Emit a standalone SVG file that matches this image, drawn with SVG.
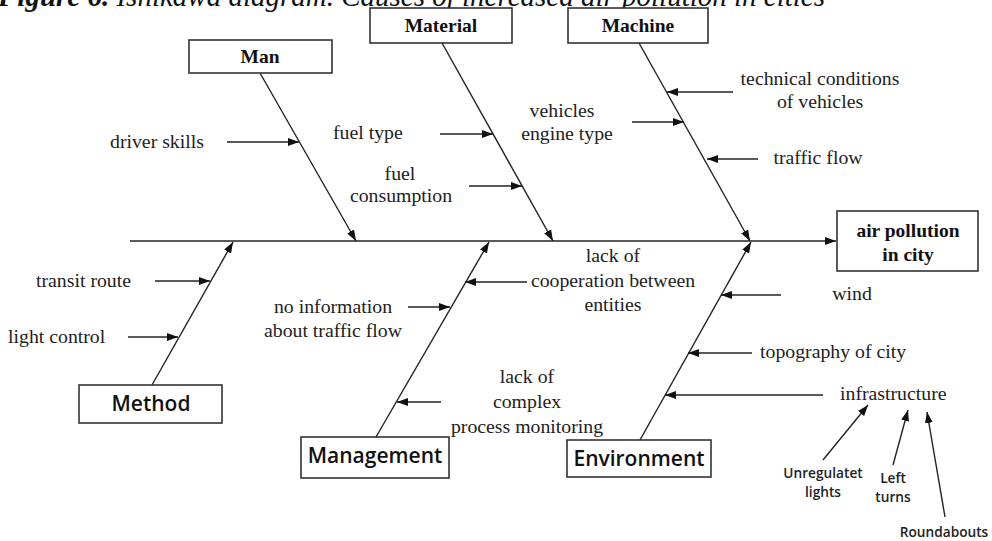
<svg xmlns="http://www.w3.org/2000/svg" width="992" height="541" viewBox="0 0 992 541">
<defs>
<marker id="ah" markerUnits="userSpaceOnUse" markerWidth="11" markerHeight="8" refX="11" refY="4" orient="auto">
<path d="M0,0 L11,4 L0,8 z" fill="#111"/>
</marker>
<style>
.ln{stroke:#222;stroke-width:1.4;fill:none}
.ar{stroke:#222;stroke-width:1.4;fill:none;marker-end:url(#ah)}
.box{fill:#fff;stroke:#333;stroke-width:1.6}
.lb{font-family:"Liberation Serif",serif;font-size:19.8px;fill:#222}
.tb{font-family:"Liberation Serif",serif;font-size:19.5px;font-weight:bold;fill:#111;text-anchor:middle}
.sb{font-family:"Open Sans","Liberation Sans",sans-serif;font-size:21px;font-weight:600;fill:#111;text-anchor:middle}
.sm{font-family:"Open Sans","Liberation Sans",sans-serif;font-size:13.7px;font-weight:600;fill:#222;text-anchor:middle}
.c{text-anchor:middle}
</style>
</defs>
<rect width="992" height="541" fill="#fff"/>
<text x="-2" y="6" font-family="Liberation Serif,serif" font-size="29" font-style="italic" fill="#111"><tspan font-weight="bold">Figure 6.</tspan> Ishikawa diagram. Causes of increased air pollution in cities</text>

<g id="connectors">
<line class="ar" x1="130" y1="241" x2="836" y2="241"/>
<line class="ar" x1="260" y1="73" x2="356" y2="241"/>
<line class="ar" x1="442" y1="43" x2="553" y2="241"/>
<line class="ar" x1="639" y1="43" x2="750" y2="241"/>
<line class="ar" x1="152" y1="385" x2="233" y2="242"/>
<line class="ar" x1="376" y1="437" x2="489" y2="242"/>
<line class="ar" x1="640" y1="440" x2="751" y2="242"/>
<line class="ar" x1="227" y1="142" x2="299" y2="142"/>
<line class="ar" x1="440" y1="134" x2="493" y2="134"/>
<line class="ar" x1="469" y1="186" x2="522" y2="186"/>
<line class="ar" x1="632" y1="122" x2="684" y2="122"/>
<line class="ar" x1="733" y1="92" x2="667" y2="92"/>
<line class="ar" x1="758" y1="159" x2="707" y2="159"/>
<line class="ar" x1="155" y1="281" x2="210" y2="281"/>
<line class="ar" x1="128" y1="337" x2="178" y2="337"/>
<line class="ar" x1="408" y1="307" x2="450" y2="307"/>
<line class="ar" x1="527" y1="282" x2="465" y2="282"/>
<line class="ar" x1="441" y1="402" x2="397" y2="402"/>
<line class="ar" x1="781" y1="295" x2="721" y2="295"/>
<line class="ar" x1="752" y1="353" x2="688" y2="353"/>
<line class="ar" x1="823" y1="395" x2="665" y2="395"/>
<line class="ar" x1="823" y1="460" x2="868" y2="405"/>
<line class="ar" x1="893" y1="465" x2="908" y2="410"/>
<line class="ar" x1="945" y1="517" x2="927" y2="412"/>
</g>

<g id="man"><rect class="box" x="189" y="40" width="143" height="33"/><text class="tb" x="260" y="63">Man</text></g>
<g id="material"><rect class="box" x="370" y="8" width="142" height="35"/><text class="tb" x="441" y="32">Material</text></g>
<g id="machine"><rect class="box" x="568" y="8" width="140" height="35"/><text class="tb" x="638" y="32">Machine</text></g>
<g id="effect"><rect class="box" x="837" y="211" width="141" height="60"/><text class="tb" x="908" y="237" font-size="23.5">air pollution</text><text class="tb" x="908" y="261" font-size="23.5">in city</text></g>
<g id="method"><rect class="box" x="79" y="385" width="143" height="38"/><text class="sb" x="151" y="411">Method</text></g>
<g id="management"><rect class="box" x="301" y="437" width="148" height="41"/><text class="sb" x="375" y="463">Management</text></g>
<g id="environment"><rect class="box" x="567" y="440" width="144" height="37"/><text class="sb" x="639" y="466">Environment</text></g>

<g id="causes">
<text class="lb" x="110" y="148">driver skills</text>
<text class="lb" x="333" y="139">fuel type</text>
<text class="lb c" x="400" y="180">fuel</text>
<text class="lb c" x="401" y="202">consumption</text>
<text class="lb c" x="562" y="117">vehicles</text>
<text class="lb c" x="567" y="140">engine type</text>
<text class="lb c" x="820" y="85">technical conditions</text>
<text class="lb c" x="820" y="108">of vehicles</text>
<text class="lb c" x="818" y="164">traffic flow</text>
<text class="lb" x="36" y="287">transit route</text>
<text class="lb" x="8" y="343">light control</text>
<text class="lb c" x="333" y="313">no information</text>
<text class="lb c" x="333" y="337">about traffic flow</text>
<text class="lb c" x="613" y="262">lack of</text>
<text class="lb c" x="613" y="287">cooperation between</text>
<text class="lb c" x="613" y="311">entities</text>
<text class="lb c" x="527" y="383">lack of</text>
<text class="lb c" x="527" y="408">complex</text>
<text class="lb c" x="527" y="433">process monitoring</text>
<text class="lb c" x="852" y="300">wind</text>
<text class="lb" x="760" y="358">topography of city</text>
<text class="lb" x="840" y="400">infrastructure</text>
<text class="sm" x="823" y="478">Unregulatet</text>
<text class="sm" x="823" y="497">lights</text>
<text class="sm" x="893" y="483">Left</text>
<text class="sm" x="893" y="502">turns</text>
<text class="sm" x="944" y="537">Roundabouts</text>
</g>
</svg>
